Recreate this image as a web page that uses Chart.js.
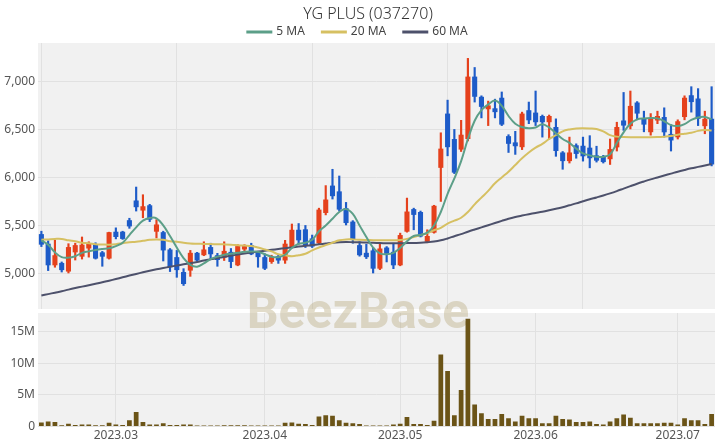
<!DOCTYPE html>
<html>
<head>
<meta charset="utf-8">
<title>YG PLUS (037270)</title>
<script src="https://cdn.jsdelivr.net/npm/chart.js@4.4.0/dist/chart.umd.min.js"></script>
<style>
  body { margin: 0; background: #fff; }
  #wrap { position: relative; width: 720px; height: 448px; }
  #priceChart { position: absolute; left: 0; top: 0; }
  #volumeChart { position: absolute; left: 0; top: 310px; }
</style>
</head>
<body>
<div id="wrap">
  <canvas id="priceChart" width="720" height="310"></canvas>
  <canvas id="volumeChart" width="720" height="138"></canvas>
</div>
<script>
// Datos del gráfico (días hábiles)
const dates = [
  '2023-02-14','2023-02-15','2023-02-16','2023-02-17','2023-02-20','2023-02-21','2023-02-22','2023-02-23','2023-02-24','2023-02-27','2023-02-28',
  '2023-03-02','2023-03-03','2023-03-06','2023-03-07','2023-03-08','2023-03-09','2023-03-10','2023-03-13','2023-03-14','2023-03-15','2023-03-16',
  '2023-03-17','2023-03-20','2023-03-21','2023-03-22','2023-03-23','2023-03-24','2023-03-27','2023-03-28','2023-03-29','2023-03-30','2023-03-31',
  '2023-04-03','2023-04-04','2023-04-05','2023-04-06','2023-04-07','2023-04-10','2023-04-11','2023-04-12','2023-04-13','2023-04-14',
  '2023-04-17','2023-04-18','2023-04-19','2023-04-20','2023-04-21','2023-04-24','2023-04-25','2023-04-26','2023-04-27','2023-04-28',
  '2023-05-02','2023-05-03','2023-05-04','2023-05-08','2023-05-09','2023-05-10','2023-05-11','2023-05-12','2023-05-15','2023-05-16',
  '2023-05-17','2023-05-18','2023-05-19','2023-05-22','2023-05-23','2023-05-24','2023-05-25','2023-05-26','2023-05-30','2023-05-31',
  '2023-06-01','2023-06-02','2023-06-05','2023-06-07','2023-06-08','2023-06-09','2023-06-12','2023-06-13','2023-06-14','2023-06-15','2023-06-16',
  '2023-06-19','2023-06-20','2023-06-21','2023-06-22','2023-06-23','2023-06-26','2023-06-27','2023-06-28','2023-06-29','2023-06-30',
  '2023-07-03','2023-07-04','2023-07-05','2023-07-06','2023-07-07','2023-07-10'
];

const opens = [
  5410,5310,5085,5110,5020,5220,5175,5260,5305,5220,
  5155,5435,5435,5555,5760,5655,5710,5435,5430,5250,
  5170,5015,5030,5215,5190,5275,5190,5165,5225,5085,
  5250,5295,5225,5170,5120,5180,5135,5275,5455,5460,
  5365,5315,5630,5915,5855,5680,5540,5295,5215,5240,
  5050,5270,5225,5085,5435,5670,5640,5330,5425,6100,
  6665,6400,6290,6400,7050,6840,6710,6720,6830,6430,
  6365,6315,6700,6675,6640,6575,6525,6260,6170,6335,
  6330,6310,6230,6218,6190,6313,6593,6534,6780,6618,
  6471,6593,6629,6453,6418,6629,6856,6822,6534,6611
];
const highs = [
  5440,5340,5345,5120,5310,5315,5380,5330,5320,5230,
  5430,5475,5440,5575,5900,5820,5720,5560,5440,5260,
  5240,5050,5240,5220,5330,5315,5210,5330,5260,5300,
  5300,5315,5230,5205,5190,5190,5345,5515,5520,5500,
  5400,5680,5915,6085,6015,5740,5550,5330,5305,5270,
  5305,5280,5315,5420,5785,5680,5650,5455,5710,6465,
  6805,6500,6595,7240,7145,6850,6795,6815,6890,6445,
  6480,6680,6785,6900,6650,6650,6610,6270,6420,6350,
  6420,6435,6325,6230,6400,6575,6885,6900,6790,6690,
  6665,6690,6725,6550,6600,6850,6945,6925,6690,6945
];
const lows = [
  5280,5030,5065,5015,5005,5140,5150,5170,5150,5075,
  5150,5360,5355,5470,5650,5580,5540,5370,5130,5020,
  4960,4875,4970,5130,5185,5155,5075,5135,5060,5080,
  5225,5195,5065,5040,5105,5105,5105,5270,5305,5270,
  5270,5300,5610,5775,5650,5505,5315,5180,5155,5005,
  5040,5120,5050,5080,5430,5455,5380,5320,5420,5750,
  6225,6040,6270,6380,6785,6620,6540,6620,6540,6260,
  6240,6290,6560,6540,6420,6400,6220,6085,6150,6200,
  6170,6100,6160,6150,6135,6275,6490,6505,6600,6475,
  6440,6560,6420,6275,6400,6600,6680,6540,6455,6120
];
const closes = [
  5300,5085,5190,5035,5275,5295,5300,5310,5155,5175,
  5430,5380,5360,5490,5690,5700,5560,5510,5240,5065,
  5035,4890,5215,5135,5250,5200,5140,5235,5120,5285,
  5285,5200,5170,5050,5170,5135,5310,5455,5345,5290,
  5280,5665,5770,5805,5665,5525,5355,5190,5170,5050,
  5260,5205,5085,5400,5645,5610,5385,5390,5705,6300,
  6315,6050,6445,7050,6840,6735,6750,6680,6550,6350,
  6325,6665,6595,6575,6575,6640,6275,6170,6260,6245,
  6220,6200,6175,6160,6295,6525,6540,6745,6665,6550,
  6610,6640,6470,6385,6585,6830,6785,6610,6610,6135
];
const volumes = [
  640000,800000,700000,200000,450000,250000,300000,300000,200000,200000,
  600000,300000,250000,1000000,2300000,700000,300000,300000,500000,250000,
  250000,300000,300000,150000,150000,150000,150000,200000,200000,200000,
  200000,150000,150000,150000,150000,150000,600000,650000,450000,400000,
  250000,1600000,1800000,1700000,1000000,600000,500000,400000,150000,150000,
  150000,150000,300000,450000,1500000,400000,400000,250000,900000,11400000,
  8800000,1800000,5800000,17100000,3500000,2100000,1200000,1200000,2000000,1300000,
  800000,1700000,1300000,1300000,500000,500000,1700000,1200000,1100000,700000,
  700000,800000,400000,300000,800000,1300000,1900000,1400000,500000,500000,
  500000,500000,600000,600000,300000,1300000,1000000,1000000,400000,2000000
];

// Medias móviles
const ma5 = [
  5345,5300,5220,5170,5165,5180,5215,5230,5245,5255,
  5262,5285,5320,5400,5480,5550,5578,5575,5500,5390,
  5270,5160,5090,5070,5105,5150,5175,5195,5205,5215,
  5225,5228,5225,5200,5175,5170,5195,5265,5310,5320,
  5350,5440,5500,5570,5640,5670,5620,5500,5380,5270,
  5210,5200,5215,5265,5335,5390,5400,5425,5500,5640,
  5830,5990,6170,6400,6590,6700,6760,6800,6745,6640,
  6560,6525,6512,6520,6555,6520,6460,6400,6360,6300,
  6250,6230,6215,6215,6240,6360,6470,6560,6605,6615,
  6618,6615,6585,6545,6535,6555,6600,6625,6630,6605
];
const ma20 = [
  5350,5355,5360,5360,5345,5335,5320,5315,5305,5302,
  5300,5305,5315,5325,5330,5340,5350,5355,5350,5335,
  5330,5320,5313,5310,5308,5306,5305,5303,5300,5295,
  5290,5285,5270,5250,5230,5200,5190,5180,5190,5205,
  5240,5270,5295,5320,5345,5355,5355,5350,5348,5347,
  5346,5347,5347,5348,5360,5380,5400,5420,5450,5475,
  5520,5550,5580,5640,5720,5790,5860,5940,6000,6060,
  6130,6200,6260,6310,6350,6400,6440,6480,6500,6510,
  6512,6510,6505,6480,6440,6425,6420,6418,6418,6418,
  6418,6420,6425,6432,6445,6455,6465,6485,6495,6490
];
const ma60 = [
  4770,4785,4800,4815,4832,4848,4863,4878,4893,4908,
  4925,4942,4960,4978,4995,5012,5028,5043,5057,5070,
  5083,5095,5107,5120,5135,5148,5160,5172,5185,5197,
  5208,5218,5228,5237,5246,5255,5263,5271,5280,5288,
  5296,5304,5312,5320,5325,5327,5326,5324,5322,5319,
  5317,5315,5314,5314,5316,5318,5320,5325,5332,5345,
  5365,5388,5410,5435,5458,5480,5502,5525,5548,5570,
  5588,5603,5617,5630,5643,5658,5674,5690,5710,5730,
  5752,5773,5792,5812,5834,5858,5884,5910,5935,5958,
  5980,6000,6020,6040,6060,6078,6095,6110,6125,6140
];

// Marcas de los ejes
const priceTicks = [5000, 5500, 6000, 6500, 7000];
const volumeTicks = [0, 5000000, 10000000, 15000000];

const UP = '#e5411c';
const DOWN = '#1d5bc8';
const VOL = '#6b5417';
const GRID = '#e1e1e1';
const AREA = '#f1f1f1';
const FONT = '"Noto Sans", "DejaVu Sans", sans-serif';

Chart.defaults.font.family = FONT;
Chart.defaults.color = '#555';

const candleColors = closes.map((c, i) => c >= opens[i] ? UP : DOWN);
const monthStarts = dates.map((d, i) => (i > 0 && d.slice(5, 7) !== dates[i - 1].slice(5, 7)) ? i : -1).filter(i => i >= 0);

// Fondo gris del área de trazado
const areaBg = {
  id: 'areaBg',
  beforeDraw(chart) {
    const { ctx, chartArea: { left, top, width, height } } = chart;
    ctx.save();
    ctx.fillStyle = AREA;
    ctx.fillRect(left, top, width, height);
    ctx.restore();
  }
};

// Marca de agua, en coordenadas de la página
const watermark = {
  id: 'watermark',
  beforeDatasetsDraw(chart, args, opts) {
    const ctx = chart.ctx;
    ctx.save();
    ctx.font = 'bold 50px Roboto, "DejaVu Sans", sans-serif';
    ctx.fillStyle = 'rgba(185, 172, 128, 0.42)';
    ctx.textAlign = 'center';
    ctx.textBaseline = 'alphabetic';
    ctx.fillText('BeezBase', 358, 328 - opts.offsetY);
    ctx.restore();
  }
};

// Título y leyenda de las medias
const header = {
  id: 'header',
  afterDraw(chart, args, opts) {
    const ctx = chart.ctx;
    ctx.save();
    ctx.textBaseline = 'middle';
    ctx.fillStyle = '#333';
    ctx.font = '300 16px ' + FONT;
    ctx.textAlign = 'center';
    ctx.fillText(opts.title, 368, 14);

    ctx.font = '12px ' + FONT;
    ctx.textAlign = 'left';
    const items = chart.data.datasets.filter(d => d.type === 'line');
    const widths = items.map(d => 26 + 4 + ctx.measureText(d.label).width);
    const total = widths.reduce((a, b) => a + b, 0) + 16 * (items.length - 1);
    let x = 357 - total / 2;
    items.forEach((d, i) => {
      ctx.strokeStyle = d.borderColor;
      ctx.lineWidth = 3;
      ctx.beginPath();
      ctx.moveTo(x, 32);
      ctx.lineTo(x + 26, 32);
      ctx.stroke();
      ctx.fillStyle = '#444';
      ctx.fillText(d.label, x + 30, 32);
      x += widths[i] + 16;
    });
    ctx.restore();
  }
};

function noPadding(scale) {
  scale.paddingTop = 0;
  scale.paddingBottom = 0;
  scale.paddingLeft = 0;
  scale.paddingRight = 0;
}

// Gráfico de precios (velas + medias)
const priceChart = new Chart(document.getElementById('priceChart').getContext('2d'), {
  type: 'bar',
  data: {
    labels: dates,
    datasets: [
      { type: 'line', label: '5 MA', data: ma5, borderColor: '#5c9f88', backgroundColor: '#5c9f88', borderWidth: 2, pointRadius: 0, tension: 0.4, order: 0 },
      { type: 'line', label: '20 MA', data: ma20, borderColor: '#d6c062', backgroundColor: '#d6c062', borderWidth: 2, pointRadius: 0, tension: 0.4, order: 0 },
      { type: 'line', label: '60 MA', data: ma60, borderColor: '#4d516b', backgroundColor: '#4d516b', borderWidth: 2, pointRadius: 0, tension: 0.4, order: 0 },
      {
        label: 'body',
        data: opens.map((o, i) => [o, closes[i]]),
        backgroundColor: candleColors,
        barPercentage: 0.75,
        categoryPercentage: 1,
        grouped: false,
        order: 1
      },
      {
        label: 'wick',
        data: lows.map((l, i) => [l, highs[i]]),
        backgroundColor: candleColors,
        barThickness: 1.5,
        grouped: false,
        order: 2
      }
    ]
  },
  options: {
    responsive: false,
    animation: false,
    layout: { padding: { top: 43, right: 5, bottom: 1, left: 0 } },
    plugins: {
      legend: { display: false },
      title: { display: false },
      tooltip: { enabled: false },
      header: { title: 'YG PLUS (037270)' },
      watermark: { offsetY: 0 }
    },
    scales: {
      x: {
        ticks: { display: false },
        grid: {
          offset: false,
          drawTicks: false,
          color: c => c.index % 20 === 0 ? GRID : 'transparent'
        },
        border: { display: false }
      },
      y: {
        min: 4630,
        max: 7400,
        ticks: {
          autoSkip: false,
          padding: 3,
          color: '#555',
          font: { size: 12 },
          callback: v => v.toLocaleString('en-US')
        },
        afterBuildTicks: s => { s.ticks = priceTicks.map(v => ({ value: v })); },
        afterFit: s => { s.width = 38; noPadding(s); },
        grid: { color: GRID, drawTicks: false },
        border: { display: false }
      }
    }
  },
  plugins: [areaBg, watermark, header]
});

// Gráfico de volumen
const volumeChart = new Chart(document.getElementById('volumeChart').getContext('2d'), {
  type: 'bar',
  data: {
    labels: dates,
    datasets: [{
      label: 'Volume',
      data: volumes,
      backgroundColor: VOL,
      barPercentage: 0.7,
      categoryPercentage: 1
    }]
  },
  options: {
    responsive: false,
    animation: false,
    layout: { padding: { top: 3, right: 5, bottom: 0, left: 0 } },
    plugins: {
      legend: { display: false },
      tooltip: { enabled: false },
      watermark: { offsetY: 310 }
    },
    scales: {
      x: {
        ticks: {
          autoSkip: false,
          maxRotation: 0,
          minRotation: 0,
          padding: 2,
          color: '#555',
          font: { size: 12 },
          callback: (v, i) => monthStarts.includes(i) ? dates[i].slice(0, 7).replace('-', '.') : null
        },
        afterFit: s => { s.height = 21.5; noPadding(s); },
        grid: { offset: false, drawTicks: false, color: GRID },
        border: { display: false }
      },
      y: {
        min: 0,
        max: 18000000,
        ticks: {
          autoSkip: false,
          padding: 3,
          color: '#555',
          font: { size: 12 },
          callback: v => v === 0 ? '0' : (v / 1000000) + 'M'
        },
        afterBuildTicks: s => { s.ticks = volumeTicks.map(v => ({ value: v })); },
        afterFit: s => { s.width = 38; noPadding(s); },
        grid: { color: GRID, drawTicks: false },
        border: { display: false }
      }
    }
  },
  plugins: [areaBg, watermark]
});
</script>
</body>
</html>
